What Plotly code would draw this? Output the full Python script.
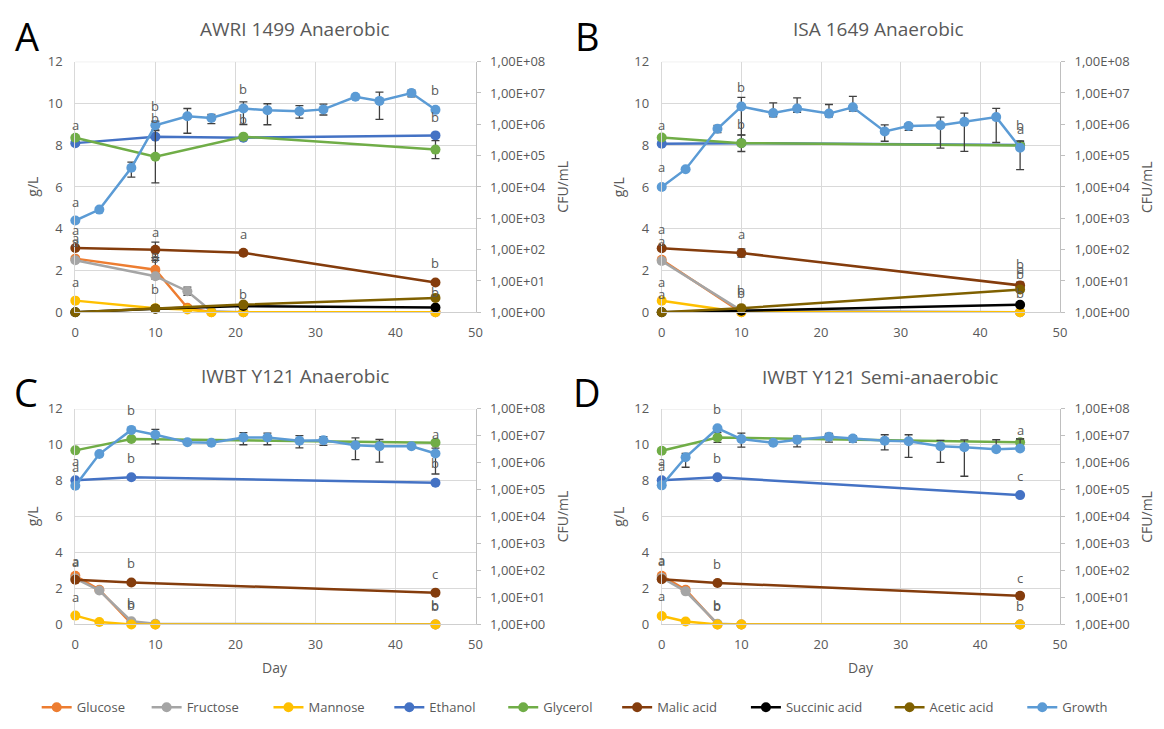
import plotly.graph_objects as go

FIG_W, FIG_H = 1164, 729

SERIES_NAMES = ["Glucose", "Fructose", "Mannose", "Ethanol", "Glycerol",
                "Malic acid", "Succinic acid", "Acetic acid", "Growth"]
SERIES_COLORS = ["#ED7D31", "#A5A5A5", "#FFC000", "#4472C4", "#70AD47",
                 "#843C0C", "#000000", "#7F6000", "#5B9BD5"]

GROWTH_DAYS = [0, 3, 7, 10, 14, 17, 21, 24, 28, 31, 35, 38, 42, 45]

# ---------------- Panel A : AWRI 1499 Anaerobic ----------------
A_TITLE = "AWRI 1499 Anaerobic"
A_SUGAR_DAYS = [0, 10, 14, 17, 21, 45]
A_GLUCOSE = [2.57, 2.04, 0.22, 0.0, 0.0, 0.0]
A_GLUCOSE_ERR = [0, 0.45, 0.1, 0, 0, 0]
A_FRUCTOSE = [2.49, 1.73, 1.01, 0.05, 0.0, 0.0]
A_FRUCTOSE_ERR = [0, 0, 0.2, 0, 0, 0]
A_MANNOSE = [0.56, 0.20, 0.14, 0.0, 0.0, 0.0]
A_DAYS = [0, 10, 21, 45]
A_ETHANOL = [8.10, 8.41, 8.36, 8.47]
A_GLYCEROL = [8.36, 7.45, 8.41, 7.79]
A_GLYCEROL_ERR = [0, 1.25, 0, 0.43]
A_MALIC = [3.08, 2.99, 2.85, 1.43]
A_MALIC_ERR = [0, 0.37, 0, 0]
A_SUCCINIC = [0.0, 0.17, 0.30, 0.23]
A_ACETIC = [0.0, 0.17, 0.37, 0.69]
A_GROWTH = [8.5e2, 1.9e3, 4.1e4, 9.3e5, 1.8e6, 1.6e6, 3.2e6, 2.8e6,
            2.6e6, 3.0e6, 7.6e6, 5.6e6, 1.0e7, 2.9e6]
A_GROWTH_UP_LOG = [0, 0, 0.18, 0.13, 0.25, 0.11, 0.21, 0.21, 0.18, 0.17, 0, 0.28, 0.09, 0]
A_GROWTH_DN_LOG = [0, 0, 0.30, 0.15, 0.54, 0.18, 0.51, 0.46, 0.22, 0.18, 0, 0.59, 0.12, 0]
A_LETTERS = [(0, 8.97, "a"), (0, 5.28, "a"), (0, 3.94, "a"), (0, 3.55, "a"), (0, 3.35, "a"),
             (0, 1.45, "a"), (10, 9.89, "b"), (10, 9.31, "b"), (10, 3.86, "a"),
             (10, 2.75, "a"), (10, 2.6, "b"), (10, 1.14, "b"), (21, 10.67, "b"),
             (21, 9.27, "b"), (21, 3.75, "a"), (21, 0.9, "b"), (45, 10.64, "b"),
             (45, 9.36, "b"), (45, 2.35, "b"), (45, 0.95, "b")]

# ---------------- Panel B : ISA 1649 Anaerobic ----------------
B_TITLE = "ISA 1649 Anaerobic"
B_SUGAR_DAYS = [0, 10, 45]
B_GLUCOSE = [2.52, 0.0, 0.0]
B_GLUCOSE_ERR = [0, 0, 0]
B_FRUCTOSE = [2.46, 0.08, 0.0]
B_FRUCTOSE_ERR = [0, 0, 0]
B_MANNOSE = [0.55, 0.0, 0.0]
B_DAYS = [0, 10, 45]
B_ETHANOL = [8.07, 8.10, 8.01]
B_GLYCEROL = [8.37, 8.10, 7.99]
B_GLYCEROL_ERR = [0, 0.4, 0.2]
B_MALIC = [3.07, 2.84, 1.29]
B_MALIC_ERR = [0, 0.2, 0.15]
B_SUCCINIC = [0.0, 0.08, 0.36]
B_ACETIC = [0.0, 0.20, 1.09]
B_GROWTH = [1.0e4, 3.7e4, 7.2e5, 3.7e6, 2.3e6, 3.2e6, 2.2e6, 3.5e6,
            5.9e5, 8.9e5, 9.3e5, 1.2e6, 1.7e6, 1.8e5]
B_GROWTH_UP_LOG = [0, 0, 0.11, 0.29, 0.32, 0.34, 0.29, 0.35, 0.21, 0.07, 0.26, 0.28, 0.28, 0.21]
B_GROWTH_DN_LOG = [0, 0, 0.12, 0.91, 0.12, 0.12, 0.10, 0.12, 0.31, 0.14, 0.73, 0.94, 0.81, 0.70]
B_LETTERS = [(0, 8.99, "a"), (0, 6.95, "a"), (0, 3.97, "a"), (0, 3.4, "a"), (0, 1.43, "a"),
             (0, 0.89, "a"), (10, 10.78, "b"), (10, 9.0, "b"), (10, 3.74, "a"),
             (10, 1.09, "b"), (10, 0.93, "b"), (45, 8.96, "b"), (45, 8.76, "a"),
             (45, 2.3, "b"), (45, 2.05, "a"), (45, 1.85, "b"), (45, 0.93, "b")]

# ---------------- Panel C : IWBT Y121 Anaerobic ----------------
C_TITLE = "IWBT Y121 Anaerobic"
C_SUGAR_DAYS = [0, 3, 7, 10, 45]
C_GLUCOSE = [2.71, 1.93, 0.05, 0.0, 0.0]
C_GLUCOSE_ERR = [0, 0, 0, 0, 0]
C_FRUCTOSE = [2.56, 1.89, 0.18, 0.04, 0.0]
C_FRUCTOSE_ERR = [0, 0, 0, 0, 0]
C_MANNOSE = [0.49, 0.13, 0.0, 0.0, 0.0]
C_DAYS = [0, 7, 45]
C_ETHANOL = [8.03, 8.19, 7.89]
C_GLYCEROL = [9.69, 10.32, 10.12]
C_GLYCEROL_ERR = [0, 0, 0]
C_MALIC = [2.49, 2.33, 1.77]
C_MALIC_ERR = [0, 0, 0]
C_GROWTH = [1.4e5, 2.1e6, 1.66e7, 1.1e7, 5.8e6, 5.5e6, 8.7e6, 8.7e6,
            6.6e6, 6.8e6, 4.5e6, 4.1e6, 4.1e6, 2.2e6]
C_GROWTH_UP_LOG = [0, 0, 0, 0.20, 0, 0, 0.18, 0.16, 0.19, 0.14, 0.27, 0.25, 0, 0.20]
C_GROWTH_DN_LOG = [0, 0, 0, 0.34, 0, 0, 0.27, 0.27, 0.27, 0.19, 0.54, 0.59, 0, 0.76]
C_LETTERS = [(0, 9.11, "a"), (0, 8.79, "a"), (0, 3.55, "a"), (0, 3.5, "a"), (0, 1.53, "a"),
             (7, 11.91, "b"), (7, 9.29, "b"), (7, 3.43, "b"), (7, 1.17, "b"), (7, 1.1, "b"),
             (45, 10.59, "a"), (45, 8.97, "b"), (45, 2.8, "c"), (45, 1.08, "b"), (45, 1.02, "b")]

# ---------------- Panel D : IWBT Y121 Semi-anaerobic ----------------
D_TITLE = "IWBT Y121 Semi-anaerobic"
D_SUGAR_DAYS = [0, 3, 7, 10, 45]
D_GLUCOSE = [2.71, 1.93, 0.0, 0.0, 0.0]
D_GLUCOSE_ERR = [0, 0, 0, 0, 0]
D_FRUCTOSE = [2.60, 1.84, 0.04, 0.0, 0.0]
D_FRUCTOSE_ERR = [0, 0, 0, 0, 0]
D_MANNOSE = [0.47, 0.16, 0.0, 0.0, 0.0]
D_DAYS = [0, 7, 45]
D_ETHANOL = [8.03, 8.19, 7.20]
D_GLYCEROL = [9.67, 10.41, 10.14]
D_GLYCEROL_ERR = [0, 0.27, 0.2]
D_MALIC = [2.51, 2.31, 1.59]
D_MALIC_ERR = [0, 0, 0.15]
D_GROWTH = [1.45e5, 1.6e6, 1.9e7, 7.6e6, 5.5e6, 7.1e6, 9.3e6, 7.9e6,
            6.6e6, 6.3e6, 4.1e6, 3.8e6, 3.2e6, 3.4e6]
D_GROWTH_UP_LOG = [0, 0.14, 0, 0.22, 0, 0.14, 0.12, 0.10, 0.22, 0.24, 0.22, 0.27, 0.35, 0.35]
D_GROWTH_DN_LOG = [0, 0.37, 0, 0.30, 0, 0.26, 0.20, 0.13, 0.34, 0.60, 0.60, 1.08, 0.04, 0.07]
D_LETTERS = [(0, 9.11, "a"), (0, 8.82, "a"), (0, 3.59, "a"), (0, 3.54, "a"), (0, 1.57, "a"),
             (7, 12.0, "b"), (7, 9.29, "b"), (7, 3.37, "b"), (7, 1.08, "b"), (7, 1.03, "b"),
             (45, 10.83, "a"), (45, 8.25, "c"), (45, 2.6, "c"), (45, 1.03, "b")]

GL_TICKS = [0, 2, 4, 6, 8, 10, 12]
CFU_TICKS = [10 ** k for k in range(9)]
CFU_TICKTEXT = ["1,00E+%02d" % k for k in range(9)]
X_TICKS = [0, 10, 20, 30, 40, 50]

# left edge (px) of each legend entry's symbol in the reference
LEGEND_X = [41, 152, 275, 397, 512, 627, 757, 902, 1036]

FONT = "Open Sans"
TXT = "#595959"
GRID = "#D9D9D9"
AXIS = "#BFBFBF"
ERRC = "#404040"


def px(x):
    return x / FIG_W


def py(y):
    return 1 - y / FIG_H


panels = [
    dict(letter="A", title=A_TITLE,
         series={"Glucose": (A_SUGAR_DAYS, A_GLUCOSE, A_GLUCOSE_ERR),
                 "Fructose": (A_SUGAR_DAYS, A_FRUCTOSE, A_FRUCTOSE_ERR),
                 "Mannose": (A_SUGAR_DAYS, A_MANNOSE, None),
                 "Ethanol": (A_DAYS, A_ETHANOL, None),
                 "Glycerol": (A_DAYS, A_GLYCEROL, A_GLYCEROL_ERR),
                 "Malic acid": (A_DAYS, A_MALIC, A_MALIC_ERR),
                 "Succinic acid": (A_DAYS, A_SUCCINIC, None),
                 "Acetic acid": (A_DAYS, A_ACETIC, None)},
         growth=(A_GROWTH, A_GROWTH_UP_LOG, A_GROWTH_DN_LOG), letters=A_LETTERS,
         box=(72, 476, 54, 311), title_xy=(294, 21), letter_xy=(23, 28), day=False),
    dict(letter="B", title=B_TITLE,
         series={"Glucose": (B_SUGAR_DAYS, B_GLUCOSE, B_GLUCOSE_ERR),
                 "Fructose": (B_SUGAR_DAYS, B_FRUCTOSE, B_FRUCTOSE_ERR),
                 "Mannose": (B_SUGAR_DAYS, B_MANNOSE, None),
                 "Ethanol": (B_DAYS, B_ETHANOL, None),
                 "Glycerol": (B_DAYS, B_GLYCEROL, B_GLYCEROL_ERR),
                 "Malic acid": (B_DAYS, B_MALIC, B_MALIC_ERR),
                 "Succinic acid": (B_DAYS, B_SUCCINIC, None),
                 "Acetic acid": (B_DAYS, B_ACETIC, None)},
         growth=(B_GROWTH, B_GROWTH_UP_LOG, B_GROWTH_DN_LOG), letters=B_LETTERS,
         box=(664, 1066, 54, 311), title_xy=(883, 21), letter_xy=(589, 28), day=False),
    dict(letter="C", title=C_TITLE,
         series={"Glucose": (C_SUGAR_DAYS, C_GLUCOSE, C_GLUCOSE_ERR),
                 "Fructose": (C_SUGAR_DAYS, C_FRUCTOSE, C_FRUCTOSE_ERR),
                 "Mannose": (C_SUGAR_DAYS, C_MANNOSE, None),
                 "Ethanol": (C_DAYS, C_ETHANOL, None),
                 "Glycerol": (C_DAYS, C_GLYCEROL, C_GLYCEROL_ERR),
                 "Malic acid": (C_DAYS, C_MALIC, C_MALIC_ERR)},
         growth=(C_GROWTH, C_GROWTH_UP_LOG, C_GROWTH_DN_LOG), letters=C_LETTERS,
         box=(72, 476, 410, 631), title_xy=(294, 376), letter_xy=(22, 393), day=True),
    dict(letter="D", title=D_TITLE,
         series={"Glucose": (D_SUGAR_DAYS, D_GLUCOSE, D_GLUCOSE_ERR),
                 "Fructose": (D_SUGAR_DAYS, D_FRUCTOSE, D_FRUCTOSE_ERR),
                 "Mannose": (D_SUGAR_DAYS, D_MANNOSE, None),
                 "Ethanol": (D_DAYS, D_ETHANOL, None),
                 "Glycerol": (D_DAYS, D_GLYCEROL, D_GLYCEROL_ERR),
                 "Malic acid": (D_DAYS, D_MALIC, D_MALIC_ERR)},
         growth=(D_GROWTH, D_GROWTH_UP_LOG, D_GROWTH_DN_LOG), letters=D_LETTERS,
         box=(664, 1066, 410, 631), title_xy=(884, 377), letter_xy=(589, 393), day=True),
]

fig = go.Figure()
layout = dict(
    width=FIG_W, height=FIG_H, margin=dict(l=0, r=0, t=0, b=0),
    paper_bgcolor="white", plot_bgcolor="rgba(0,0,0,0)",
    font=dict(family=FONT, color=TXT, size=13),
    showlegend=True,
)
# one single-entry legend per series so each entry sits where the reference has it
legend_ids = {}
for k, (name, lx) in enumerate(zip(SERIES_NAMES, LEGEND_X)):
    lid = "legend" if k == 0 else "legend%d" % (k + 1)
    legend_ids[name] = lid
    layout[lid] = dict(orientation="h", x=px(lx - 8), xanchor="left",
                       y=py(716), yanchor="middle",
                       font=dict(size=13, color=TXT, family=FONT),
                       itemwidth=30, bgcolor="rgba(0,0,0,0)", borderwidth=0)

annotations = []

for i, p in enumerate(panels):
    xn = i + 1
    yp = 2 * i + 1
    ys = 2 * i + 2
    xref = "x" if xn == 1 else "x%d" % xn
    ypref = "y" if yp == 1 else "y%d" % yp
    ysref = "y%d" % ys
    x0, x1, t, b = p["box"]
    xdom = [px(x0), px(x1)]
    ydom = [py(b), py(t)]

    layout["xaxis" if xn == 1 else "xaxis%d" % xn] = dict(
        domain=xdom, anchor=ypref, range=[0, 50], tickvals=X_TICKS,
        showgrid=True, gridcolor=GRID, gridwidth=1, zeroline=False,
        showline=True, linecolor="#CFCFCF", linewidth=1,
        ticks="outside", ticklen=8, tickcolor="rgba(0,0,0,0)",
        tickfont=dict(size=13, color=TXT, family=FONT), fixedrange=True)
    layout["yaxis" if yp == 1 else "yaxis%d" % yp] = dict(
        domain=ydom, anchor=xref, range=[0, 12], tickvals=GL_TICKS,
        showgrid=True, gridcolor=GRID, gridwidth=1, zeroline=False,
        showline=True, linecolor=GRID, linewidth=1,
        ticks="outside", ticklen=9, tickcolor="rgba(0,0,0,0)",
        tickfont=dict(size=13, color=TXT, family=FONT), fixedrange=True)
    layout["yaxis%d" % ys] = dict(
        type="log", range=[0, 8], overlaying=ypref, side="right", anchor=xref,
        tickvals=CFU_TICKS, ticktext=CFU_TICKTEXT, showgrid=False, zeroline=False,
        showline=True, linecolor=AXIS, linewidth=1,
        ticks="outside", ticklen=4, tickcolor=AXIS, ticklabelstandoff=7,
        tickfont=dict(size=13, color=TXT, family=FONT), fixedrange=True)

    # top border (gridline at 12)
    fig.add_shape(type="line", xref="%s domain" % xref, yref=ypref, x0=0, x1=1,
                  y0=12, y1=12, line=dict(color=GRID, width=1), layer="below")

    for name, color in zip(SERIES_NAMES[:-1], SERIES_COLORS[:-1]):
        if name not in p["series"]:
            continue
        days, vals, err = p["series"][name]
        tr = dict(x=days, y=vals, name=name, mode="lines+markers",
                  line=dict(color=color, width=2.5),
                  marker=dict(color=color, size=10, line=dict(width=0)),
                  legendgroup=name, legend=legend_ids[name], showlegend=(i == 0),
                  cliponaxis=False, xaxis=xref, yaxis=ypref, hoverinfo="skip")
        if err is not None:
            tr["error_y"] = dict(type="data", array=err, visible=True, color=ERRC,
                                 thickness=1.3, width=4)
        fig.add_trace(go.Scatter(**tr))

    g, up_log, dn_log = p["growth"]
    plus = [v * (10 ** u - 1) for v, u in zip(g, up_log)]
    minus = [v * (1 - 10 ** (-d)) for v, d in zip(g, dn_log)]
    fig.add_trace(go.Scatter(
        x=GROWTH_DAYS, y=g, name="Growth", mode="lines+markers",
        line=dict(color=SERIES_COLORS[-1], width=2.5),
        marker=dict(color=SERIES_COLORS[-1], size=10, line=dict(width=0)),
        error_y=dict(type="data", symmetric=False, array=plus, arrayminus=minus,
                     visible=True, color=ERRC, thickness=1.3, width=4),
        legendgroup="Growth", legend=legend_ids["Growth"], showlegend=(i == 0),
        cliponaxis=False, xaxis=xref, yaxis=ysref, hoverinfo="skip"))

    for d, yv, txt in p["letters"]:
        annotations.append(dict(x=d, y=yv, xref=xref, yref=ypref, text=txt,
                                showarrow=False, font=dict(size=13, color=TXT, family=FONT)))

    tx, ty = p["title_xy"]
    annotations.append(dict(x=px(tx), y=py(ty), xref="paper", yref="paper", text=p["title"],
                            showarrow=False, xanchor="center", yanchor="middle",
                            font=dict(size=19, color=TXT, family=FONT)))
    lx, ly = p["letter_xy"]
    annotations.append(dict(x=px(lx), y=py(ly), xref="paper", yref="paper", text=p["letter"],
                            showarrow=False, xanchor="center", yanchor="middle",
                            font=dict(size=38, color="#000000", family=FONT)))
    midy = (t + b) / 2
    annotations.append(dict(x=px(x0 - 43), y=py(midy), xref="paper", yref="paper", text="g/L",
                            showarrow=False, textangle=-90, xanchor="center", yanchor="middle",
                            font=dict(size=14, color=TXT, family=FONT)))
    annotations.append(dict(x=px(x1 + 88), y=py(midy), xref="paper", yref="paper", text="CFU/mL",
                            showarrow=False, textangle=-90, xanchor="center", yanchor="middle",
                            font=dict(size=14, color=TXT, family=FONT)))
    if p["day"]:
        annotations.append(dict(x=px((x0 + x1) / 2), y=py(675), xref="paper", yref="paper",
                                text="Day", showarrow=False, xanchor="center", yanchor="middle",
                                font=dict(size=14, color=TXT, family=FONT)))

layout["annotations"] = annotations
fig.update_layout(**layout)
fig.write_html("out.html")
